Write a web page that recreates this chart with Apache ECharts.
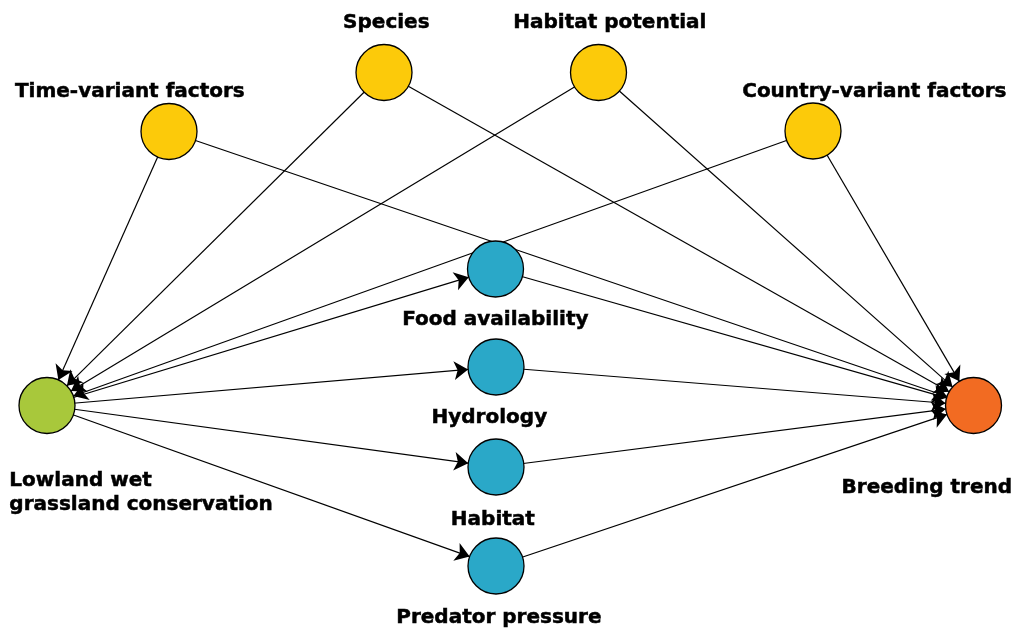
<!DOCTYPE html>
<html>
<head>
<meta charset="utf-8">
<script src="https://cdn.jsdelivr.net/npm/echarts@6/dist/echarts.min.js"></script>
<style>
html,body{margin:0;padding:0;background:#fff;}
#chart{width:1015px;height:630px;}
</style>
</head>
<body>
<div id="chart"></div>
<script>
// Nodes
const nodeNames = [
  "Time-variant factors", "Species", "Habitat potential", "Country-variant factors",
  "Lowland wet\ngrassland conservation",
  "Food availability", "Hydrology", "Habitat", "Predator pressure",
  "Breeding trend"
];
const nodeX = [169, 384, 598.5, 813, 47, 495.5, 496, 496, 496, 973.5];
const nodeY = [131.5, 72.5, 72.5, 131, 405.5, 269, 367, 467, 566, 405.5];
const nodeGroup = ["factor","factor","factor","factor","intervention","mechanism","mechanism","mechanism","mechanism","outcome"];
const groupColors = {factor:"#FCCA0A", intervention:"#A8C83B", mechanism:"#2AA8C8", outcome:"#F26B22"};
// Label placement relative to node box (top-left), and alignment
const labelPos = [[-10.5,-11.5],[31,-21],[40,-21],[90,-11],[-9,116],[28.5,79],[22,79],[25.5,81],[31.5,80],[-18,110.5]];
const labelAlign = ["center","center","center","center","left","center","center","center","center","center"];

// Edges [source index, target index]
const edgeSource = [0,1,2,3, 0,1,2,3, 4,4,4,4, 5,6,7,8];
const edgeTarget = [4,4,4,4, 9,9,9,9, 5,6,7,8, 9,9,9,9];

const nodes = nodeNames.map((n, i) => ({
  name: n,
  x: nodeX[i],
  y: nodeY[i],
  itemStyle: {color: groupColors[nodeGroup[i]]},
  label: {
    position: labelPos[i],
    align: labelAlign[i],
    verticalAlign: "middle"
  }
}));
const links = edgeSource.map((s, i) => ({source: s, target: edgeTarget[i]}));

const minX = Math.min(...nodeX), maxX = Math.max(...nodeX);
const minY = Math.min(...nodeY), maxY = Math.max(...nodeY);

const chart = echarts.init(document.getElementById("chart"), null, {renderer: "canvas"});
chart.setOption({
  animation: false,
  backgroundColor: "#fff",
  series: [{
    type: "graph",
    layout: "none",
    left: minX,
    top: minY,
    width: maxX - minX,
    height: maxY - minY,
    roam: false,
    symbol: "circle",
    symbolSize: 56,
    edgeSymbol: ["none", "arrow"],
    edgeSymbolSize: [0, 14],
    itemStyle: {borderColor: "#000", borderWidth: 1.3},
    lineStyle: {color: "#000", width: 1.2, opacity: 1, curveness: 0},
    label: {
      show: true,
      formatter: p => p.name,
      fontFamily: "DejaVu Sans",
      fontWeight: "bold",
      fontSize: 20,
      lineHeight: 24,
      color: "#000",
      textBorderColor: "#000",
      textBorderWidth: 0.5
    },
    emphasis: {disabled: true},
    data: nodes,
    links: links
  }]
});
</script>
</body>
</html>
